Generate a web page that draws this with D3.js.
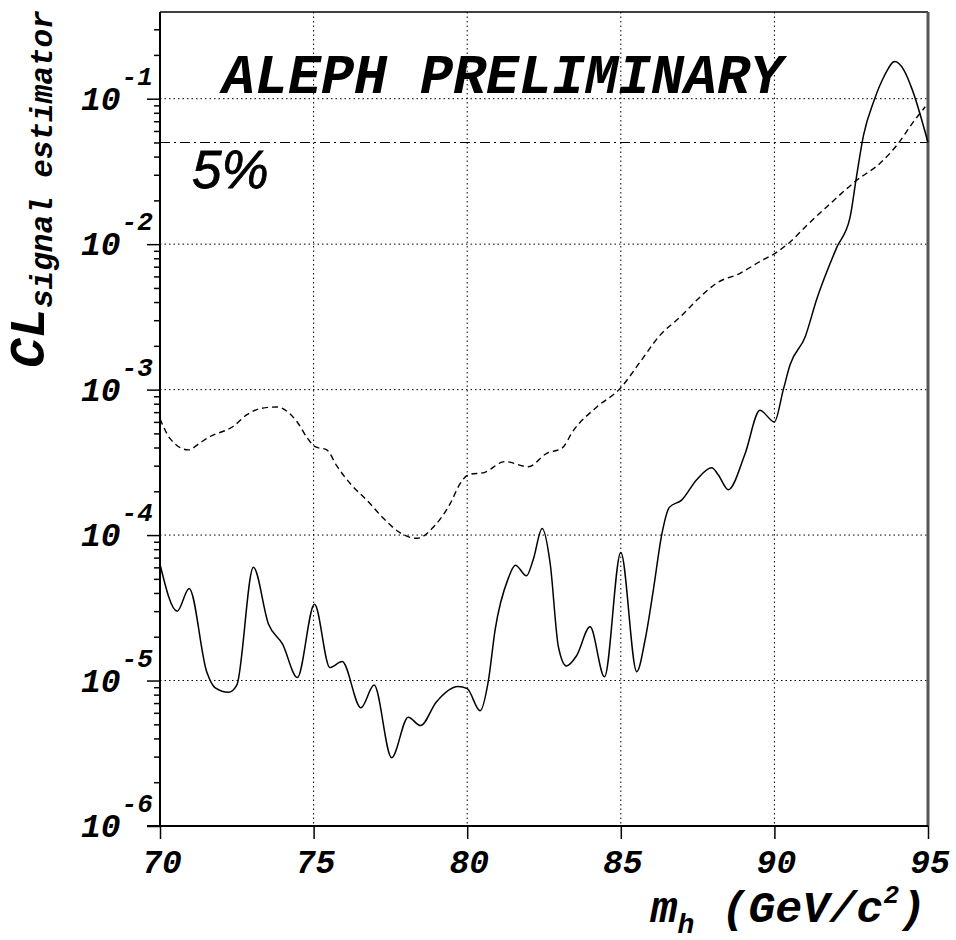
<!DOCTYPE html>
<html>
<head>
<meta charset="utf-8">
<script src="https://cdn.jsdelivr.net/npm/d3@7"></script>
<style>
  body { margin: 0; background: #fff; }
  text { font-family: "Courier New", Courier, "Nimbus Mono PS", "Nimbus Mono L", FreeMono, "Liberation Mono", monospace; font-weight: bold; font-style: italic; fill: #000; }
</style>
</head>
<body>
<div id="chart"></div>
<script>
var width = 956,
    height = 940;

// observed CL_s (solid)
var obsMass = [70.0, 70.56, 70.95, 71.52, 71.8, 72.23, 72.5, 73.04, 73.53, 73.99, 74.47, 75.03, 75.53, 75.93,
  76.54, 76.97, 77.54, 78.08, 78.48, 78.99, 79.7, 80.0, 80.42, 80.69, 80.91, 81.33, 81.57, 81.93, 82.15,
  82.44, 82.7, 82.97, 83.23, 83.56, 84.0, 84.47, 85.0, 85.52, 85.79, 86.06, 86.33, 86.58, 86.98, 87.47,
  87.96, 88.17, 88.5, 89.04, 89.53, 90.0, 90.29, 90.51, 91.0, 91.38, 92.03, 92.46, 92.66, 92.9, 93.25,
  93.56, 93.92, 94.21, 94.49, 95.0];
var obsCL = [6.3e-5, 3.0e-5, 4.3e-5, 1.15e-5, 8.9e-6, 8.3e-6, 9.3e-6, 6.0e-5, 2.45e-5, 1.78e-5, 1.05e-5, 3.35e-5, 1.23e-5, 1.35e-5,
  6.5e-6, 9.3e-6, 2.95e-6, 5.6e-6, 4.9e-6, 7.1e-6, 9.1e-6, 8.8e-6, 6.2e-6, 1.0e-5, 2.24e-5, 5.0e-5, 6.2e-5, 5.25e-5, 6.8e-5,
  1.11e-4, 6.4e-5, 1.7e-5, 1.26e-5, 1.48e-5, 2.34e-5, 1.06e-5, 7.6e-5, 1.15e-5, 1.9e-5, 4.2e-5, 1.0e-4, 1.55e-4, 1.74e-4, 2.4e-4,
  2.9e-4, 2.6e-4, 2.05e-4, 3.6e-4, 7.2e-4, 6.0e-4, 1.0e-3, 1.48e-3, 2.3e-3, 4.2e-3, 9.5e-3, 1.52e-2, 2.8e-2, 5.6e-2, 9.8e-2,
  0.141, 0.18, 0.158, 0.115, 0.05];

// expected CL_s (dashed)
var expMass = [70.0, 70.33, 70.92, 71.3, 71.58, 72.39, 72.82, 73.26, 73.8, 74.13, 74.5, 74.78, 75.05, 75.43, 75.75,
  76.19, 76.73, 77.28, 77.82, 78.37, 78.91, 79.45, 79.77, 80.04, 80.57, 81.22, 81.99, 82.59, 83.08, 83.46,
  84.22, 84.98, 85.63, 86.28, 86.94, 87.59, 88.12, 88.88, 89.53, 90.02, 90.52, 91.06, 91.71, 92.69, 93.44,
  93.99, 94.53, 94.91];
var expCL = [6.3e-4, 4.6e-4, 3.85e-4, 4.3e-4, 4.7e-4, 5.6e-4, 6.7e-4, 7.4e-4, 7.6e-4, 7.1e-4, 5.85e-4, 4.7e-4, 4.05e-4, 3.85e-4, 3.0e-4,
  2.26e-4, 1.74e-4, 1.3e-4, 1.035e-4, 9.5e-5, 1.14e-4, 1.65e-4, 2.26e-4, 2.6e-4, 2.7e-4, 3.2e-4, 2.95e-4, 3.65e-4, 3.95e-4, 5.25e-4,
  7.6e-4, 1.02e-3, 1.55e-3, 2.37e-3, 3.17e-3, 4.35e-3, 5.4e-3, 6.3e-3, 7.6e-3, 8.65e-3, 1.04e-2, 1.35e-2, 1.81e-2, 2.76e-2, 3.6e-2,
  4.8e-2, 6.95e-2, 8.8e-2];

var xTicks = [70, 75, 80, 85, 90, 95];
var yExponents = [-6, -5, -4, -3, -2, -1];
var limitLevel = 0.05;

var margin = {left: 160, right: 28, top: 12, bottom: 114};
var x = d3.scaleLinear().domain([70, 95]).range([margin.left, width - margin.right]);
var y = d3.scaleLog().domain([1e-6, Math.pow(10, -0.404)]).range([height - margin.bottom, margin.top]);

var svg = d3.select("#chart").append("svg")
  .attr("width", width)
  .attr("height", height);

var x0 = x.range()[0], x1 = x.range()[1], yb = y.range()[0], yt = y.range()[1];

// minor ticks 2..9 x 10^n
var minorTicks = [];
for (var e = -6; e <= -1; e++) {
  for (var k = 2; k <= 9; k++) {
    var v = k * Math.pow(10, e);
    if (v <= y.domain()[1]) minorTicks.push(v);
  }
}
var majorTicks = yExponents.map(function(e) { return Math.pow(10, e); });

// grid
var grid = svg.append("g").attr("class", "grid");
grid.selectAll("line.gx")
  .data(xTicks.slice(1, -1))
  .enter().append("line")
  .attr("x1", function(d) { return x(d); })
  .attr("x2", function(d) { return x(d); })
  .attr("y1", yt).attr("y2", yb)
  .attr("stroke", "#000").attr("stroke-width", 1)
  .attr("stroke-dasharray", "1.5,3");
grid.selectAll("line.gy")
  .data(majorTicks.slice(1))
  .enter().append("line")
  .attr("x1", x0).attr("x2", x1)
  .attr("y1", function(d) { return y(d); })
  .attr("y2", function(d) { return y(d); })
  .attr("stroke", "#000").attr("stroke-width", 1)
  .attr("stroke-dasharray", "1.5,3");

// 5% line
svg.append("line")
  .attr("x1", x0).attr("x2", x1)
  .attr("y1", y(limitLevel)).attr("y2", y(limitLevel))
  .attr("stroke", "#000").attr("stroke-width", 1.2)
  .attr("stroke-dasharray", "10,4,2,4");

// axes ticks
var yMinorAxis = d3.axisLeft(y).tickValues(minorTicks).tickSize(6).tickFormat("");
var yMajorAxis = d3.axisLeft(y).tickValues(majorTicks).tickSize(13).tickFormat("");
var xAxis = d3.axisBottom(x).tickValues(xTicks).tickSize(13).tickFormat("");

svg.append("g").attr("transform", "translate(" + x0 + ",0)").call(yMinorAxis);
svg.append("g").attr("transform", "translate(" + x0 + ",0)").call(yMajorAxis);
svg.append("g").attr("transform", "translate(0," + yb + ")").call(xAxis);
svg.selectAll(".domain").remove();
svg.selectAll(".tick line").attr("stroke", "#000").attr("stroke-width", 1.5);

// frame
svg.append("line").attr("x1", x0).attr("x2", x1).attr("y1", yt).attr("y2", yt)
  .attr("stroke", "#000").attr("stroke-width", 1.5);
svg.append("line").attr("x1", x1).attr("x2", x1).attr("y1", yt).attr("y2", yb)
  .attr("stroke", "#555").attr("stroke-width", 3);
svg.append("line").attr("x1", x0).attr("x2", x0).attr("y1", yt).attr("y2", yb)
  .attr("stroke", "#000").attr("stroke-width", 2);
svg.append("line").attr("x1", x0 - 13).attr("x2", x1).attr("y1", yb).attr("y2", yb)
  .attr("stroke", "#000").attr("stroke-width", 2);

// x tick labels
svg.selectAll("text.xl")
  .data(xTicks)
  .enter().append("text")
  .attr("class", "xl")
  .attr("x", function(d) { return x(d) + 2; })
  .attr("y", yb + 47)
  .attr("text-anchor", "middle")
  .style("font-size", "33px")
  .text(function(d) { return d; });

// y tick labels 10^n
var yl = svg.selectAll("text.yl")
  .data(yExponents)
  .enter().append("text")
  .attr("class", "yl")
  .attr("x", 81)
  .attr("y", function(d) { return y(Math.pow(10, d)) + 11; })
  .style("font-size", "33px");
yl.append("tspan").text("10");
yl.append("tspan")
  .attr("dx", 1)
  .attr("dy", -25)
  .style("font-size", "26px")
  .text(function(d) { return "-" + Math.abs(d); });

// curves
var line = d3.line()
  .x(function(d) { return x(d[0]); })
  .y(function(d) { return y(d[1]); })
  .curve(d3.curveMonotoneX);

var expData = expMass.map(function(m, i) { return [m, expCL[i]]; });
var obsData = obsMass.map(function(m, i) { return [m, obsCL[i]]; });

svg.append("path")
  .attr("d", line(expData))
  .attr("fill", "none")
  .attr("stroke", "#000")
  .attr("stroke-width", 1.4)
  .attr("stroke-dasharray", "6,4");

svg.append("path")
  .attr("d", line(obsData))
  .attr("fill", "none")
  .attr("stroke", "#000")
  .attr("stroke-width", 1.5);

// labels
svg.append("text")
  .attr("x", 222)
  .attr("y", 93)
  .style("font-size", "55px")
  .text("ALEPH PRELIMINARY");

svg.append("text")
  .attr("x", 192)
  .attr("y", 188)
  .style("font-family", "'Liberation Sans', Arial, sans-serif")
  .style("font-weight", "normal")
  .style("font-size", "53px")
  .style("stroke", "#000")
  .style("stroke-width", 0.8)
  .text("5%");

var yTitle = svg.append("text")
  .attr("transform", "translate(44,368) rotate(-90)");
yTitle.append("tspan").style("font-size", "50px").text("CL");
yTitle.append("tspan").attr("dy", 8).style("font-size", "31px").text("signal estimator");

var xTitle = svg.append("text")
  .attr("x", 926)
  .attr("y", 922)
  .attr("text-anchor", "end");
xTitle.append("tspan").style("font-size", "45px").text("m");
xTitle.append("tspan").attr("dy", 11).style("font-size", "28px").text("h");
xTitle.append("tspan").attr("dy", -11).style("font-size", "45px").text(" (GeV/c");
xTitle.append("tspan").attr("dy", -19).style("font-size", "26px").text("2");
xTitle.append("tspan").attr("dy", 19).style("font-size", "45px").text(")");
</script>
</body>
</html>
